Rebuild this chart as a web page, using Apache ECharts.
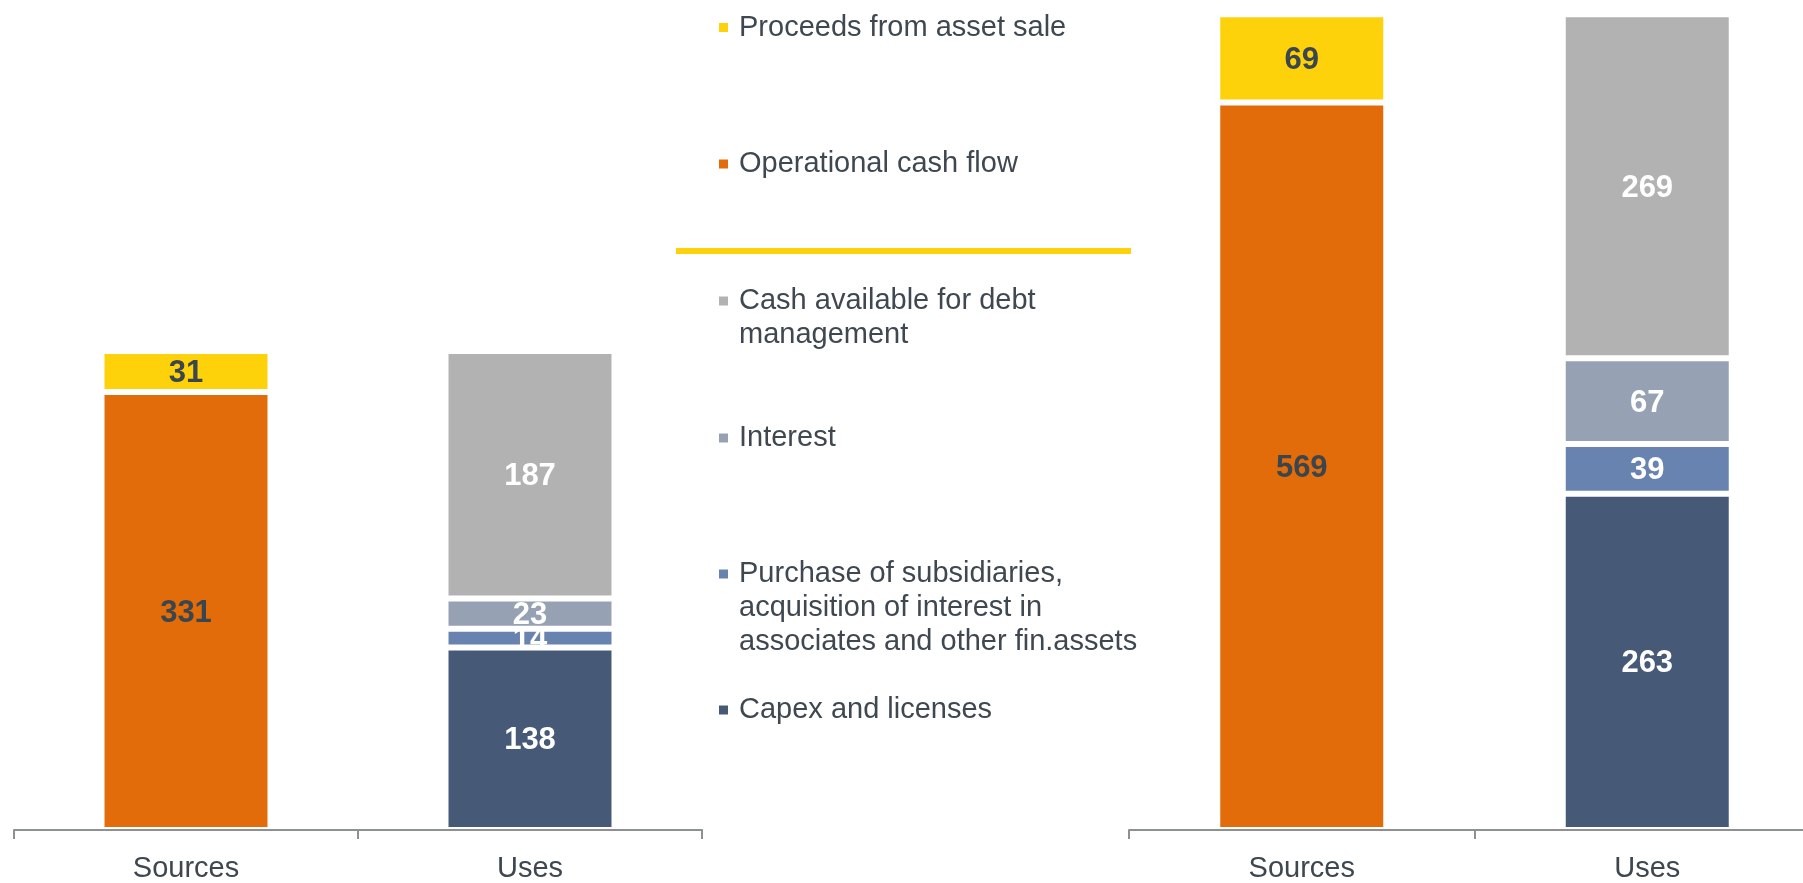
<!DOCTYPE html>
<html style="height: 100%">
<head>
  <meta charset="utf-8">
</head>
<body style="height: 100%; margin: 0; background: #fff; overflow: hidden">
  <div id="container" style="width: 1830px; height: 883px"></div>

  <script type="text/javascript" src="https://cdn.jsdelivr.net/npm/echarts@6/dist/echarts.min.js"></script>
  <script type="text/javascript">
    // categories and values (left chart / right chart)
    var categories = ['Sources', 'Uses'];

    var leftOperational = [331, '-'];
    var leftProceeds = [31, '-'];
    var leftCapex = ['-', 138];
    var leftPurchase = ['-', 14];
    var leftInterest = ['-', 23];
    var leftCash = ['-', 187];

    var rightOperational = [569, '-'];
    var rightProceeds = [69, '-'];
    var rightCapex = ['-', 263];
    var rightPurchase = ['-', 39];
    var rightInterest = ['-', 67];
    var rightCash = ['-', 269];

    var leftMax = 362;
    var rightMax = 638;

    var names = {
      proceeds: 'Proceeds from asset sale',
      operational: 'Operational cash flow',
      cash: 'Cash available for debt management',
      interest: 'Interest',
      purchase: 'Purchase of subsidiaries, acquisition of interest in associates and other fin.assets',
      capex: 'Capex and licenses'
    };

    // how the legend text wraps
    var legendLines = {};
    legendLines[names.proceeds] = ['Proceeds from asset sale'];
    legendLines[names.operational] = ['Operational cash flow'];
    legendLines[names.cash] = ['Cash available for debt', 'management'];
    legendLines[names.interest] = ['Interest'];
    legendLines[names.purchase] = ['Purchase of subsidiaries,', 'acquisition of interest in', 'associates and other fin.assets'];
    legendLines[names.capex] = ['Capex and licenses'];

    var legendOrder = [names.proceeds, names.operational, names.cash, names.interest, names.purchase, names.capex];
    var legendCenters = [27.5, 164, 301, 438, 574, 710];

    var colors = {
      proceeds: '#FDD20A',
      operational: '#E36C0A',
      cash: '#B2B2B2',
      interest: '#96A1B3',
      purchase: '#6883AF',
      capex: '#465A78'
    };

    var font = "'Liberation Sans', Arial, sans-serif";
    var darkText = '#3b454d';
    var lineH = 34;

    var dom = document.getElementById('container');
    var myChart = echarts.init(dom);

    function barSeries(key, data, idx, labelColor) {
      return {
        name: names[key],
        type: 'bar',
        stack: 'total' + idx,
        xAxisIndex: idx,
        yAxisIndex: idx,
        barWidth: 169,
        data: data,
        itemStyle: {
          color: colors[key],
          borderColor: '#fff',
          borderWidth: 3
        },
        label: {
          show: true,
          position: 'inside',
          offset: [0, 2],
          fontFamily: font,
          fontSize: 31,
          fontWeight: 'bold',
          color: labelColor
        },
        emphasis: { disabled: true }
      };
    }

    var legends = legendOrder.map(function (name, i) {
      var n = legendLines[name].length;
      return {
        data: [name],
        orient: 'vertical',
        left: 719,
        top: legendCenters[i] - (2 * n - 1) * lineH / 2,
        padding: 0,
        icon: 'rect',
        itemWidth: 9,
        itemHeight: 9,
        selectedMode: false,
        itemStyle: { borderWidth: 0 },
        textStyle: {
          fontFamily: font,
          fontSize: 29,
          lineHeight: lineH,
          color: '#3f4850',
          padding: [0, 0, 0, 6]
        },
        formatter: function (nm) {
          var lines = legendLines[nm];
          return new Array(lines.length).join('\n') + lines.join('\n');
        }
      };
    });

    function catAxis(idx) {
      return {
        type: 'category',
        gridIndex: idx,
        data: categories,
        z: 5,
        axisLine: { show: true, lineStyle: { color: '#8d9192', width: 2 } },
        axisTick: { show: true, length: 9, lineStyle: { color: '#8d9192', width: 2 } },
        axisLabel: {
          margin: 24,
          fontFamily: font,
          fontSize: 29,
          color: '#3e474f'
        }
      };
    }

    var option = {
      animation: false,
      legend: legends,
      grid: [
        { left: 14, width: 688, top: 351, height: 484 },
        { left: 1129, width: 691, top: 14.3, height: 816.7 }
      ],
      xAxis: [catAxis(0), catAxis(1)],
      yAxis: [
        { type: 'value', gridIndex: 0, min: 0, max: leftMax, show: false, splitLine: { show: false } },
        { type: 'value', gridIndex: 1, min: 0, max: rightMax, show: false, splitLine: { show: false } }
      ],
      graphic: [{
        type: 'line',
        shape: { x1: 676, y1: 251, x2: 1131, y2: 251 },
        style: { stroke: '#FDD20A', lineWidth: 6 }
      }],
      series: [
        barSeries('operational', leftOperational, 0, darkText),
        barSeries('proceeds', leftProceeds, 0, darkText),
        barSeries('capex', leftCapex, 0, '#fff'),
        barSeries('purchase', leftPurchase, 0, '#fff'),
        barSeries('interest', leftInterest, 0, '#fff'),
        barSeries('cash', leftCash, 0, '#fff'),
        barSeries('operational', rightOperational, 1, darkText),
        barSeries('proceeds', rightProceeds, 1, darkText),
        barSeries('capex', rightCapex, 1, '#fff'),
        barSeries('purchase', rightPurchase, 1, '#fff'),
        barSeries('interest', rightInterest, 1, '#fff'),
        barSeries('cash', rightCash, 1, '#fff')
      ]
    };

    if (option && typeof option === 'object') {
      myChart.setOption(option);
    }
  </script>
</body>
</html>
